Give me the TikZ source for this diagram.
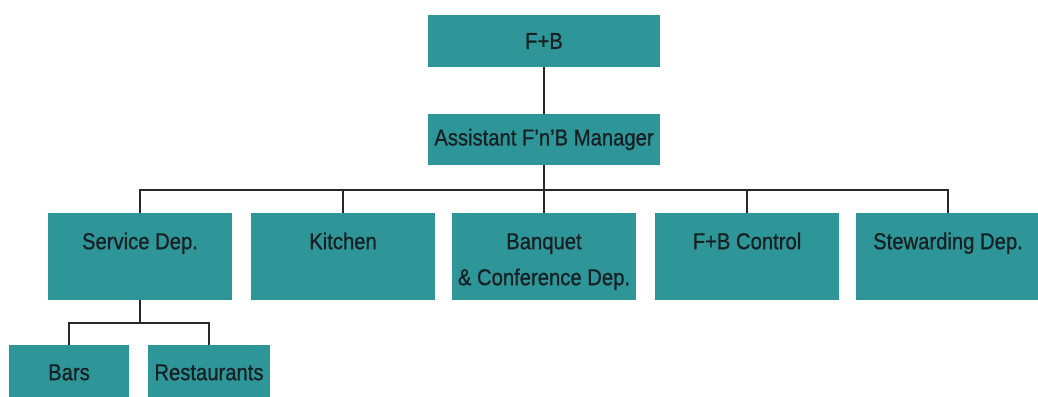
\documentclass[tikz,border=0pt]{standalone}
\usepackage{fontspec}
\setmainfont{Liberation Sans}[FakeStretch=0.88,FakeBold=0.8]
\definecolor{boxteal}{RGB}{46,150,153}
\definecolor{txtdark}{RGB}{22,32,34}
\definecolor{linegray}{RGB}{40,40,40}
\begin{document}
\begin{tikzpicture}[x=1pt,y=-1pt,
  box/.style={fill=boxteal, draw=none, text=txtdark, inner sep=0pt,
    font=\fontsize{23}{36}\selectfont, align=center},
  topbox/.style={box, minimum width=232, minimum height=52, anchor=center},
  depbox/.style={box, anchor=north, minimum width=184, text height=36, text depth=51},
  subbox/.style={box, anchor=north, text height=35, text depth=20},
  conn/.style={draw=linegray, line width=1.1pt}]
\useasboundingbox (0,0) rectangle (1038,396);
\node[topbox] (fb) at (544,41) {F+B};
\node[topbox, minimum height=51] (asst) at (544,139.5) {Assistant F'n'B Manager};
\node[depbox] (svc) at (140,213) {Service Dep.};
\node[depbox] (kit) at (343,213) {Kitchen};
\node[depbox, text height=72, text depth=15] (banq) at (544,213) {Banquet\\\& Conference Dep.};
\node[depbox] (ctrl) at (747,213) {F+B Control};
\node[depbox] (stew) at (948,213) {Stewarding Dep.};
\node[subbox, minimum width=120] (bars) at (69,345) {Bars};
\node[subbox, minimum width=122] (rest) at (209,345) {Restaurants};
\coordinate (bus) at (544,190);
\coordinate (sbus) at (140,323);
\draw[conn] (fb.south) -- (asst.north);
\draw[conn] (asst.south) -- (bus);
\foreach \n in {svc,kit,banq,ctrl,stew}{
  \draw[conn] (bus) -| (\n.north);
}
\draw[conn] (svc.south) -- (sbus);
\draw[conn] (sbus) -| (bars.north);
\draw[conn] (sbus) -| (rest.north);
\end{tikzpicture}
\end{document}
